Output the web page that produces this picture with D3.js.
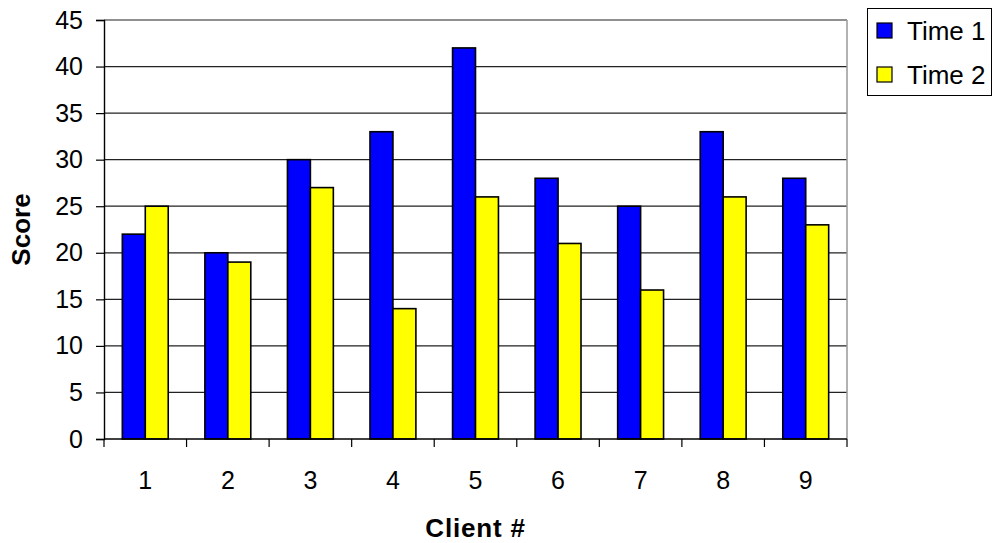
<!DOCTYPE html>
<html>
<head>
<meta charset="utf-8">
<script src="https://cdn.jsdelivr.net/npm/d3@7"></script>
<style>
  html, body { margin: 0; padding: 0; background: #fff; }
  svg { display: block; font-family: "Liberation Sans", Arial, sans-serif; }
</style>
</head>
<body>
<svg id="chart" width="993" height="543"></svg>
<script>
// Scores per client at two time points
const clients = ["1", "2", "3", "4", "5", "6", "7", "8", "9"];
const seriesNames = ["Time 1", "Time 2"];
const time1 = [22, 20, 30, 33, 42, 28, 25, 33, 28];
const time2 = [25, 19, 27, 14, 26, 21, 16, 26, 23];
const yTicks = [0, 5, 10, 15, 20, 25, 30, 35, 40, 45];
const colors = ["#0000FF", "#FFFF00"];

const svg = d3.select("#chart");
const plot = { left: 104, right: 847, top: 20, bottom: 439 };
const tickFont = 25;

const x0 = d3.scaleBand().domain(clients).range([plot.left, plot.right]).padding(0);
const bw = x0.bandwidth();
const groupPad = bw * 0.222;
const x1 = d3.scaleBand().domain(seriesNames).range([groupPad, bw - groupPad]).padding(0);
const y = d3.scaleLinear().domain([0, 45]).range([plot.bottom, plot.top]);

// Horizontal gridlines
svg.append("g")
  .selectAll("line")
  .data(yTicks.filter(d => d > 0))
  .join("line")
  .attr("x1", plot.left).attr("x2", plot.right)
  .attr("y1", d => y(d)).attr("y2", d => y(d))
  .attr("stroke", "#222").attr("stroke-width", 1.2);

// Right border of the plot area
svg.append("line")
  .attr("x1", plot.right).attr("x2", plot.right)
  .attr("y1", plot.top).attr("y2", plot.bottom)
  .attr("stroke", "#999").attr("stroke-width", 1.5);

// Bars
const data = clients.map((c, i) => ({ client: c, values: [time1[i], time2[i]] }));
svg.append("g")
  .selectAll("g")
  .data(data)
  .join("g")
  .attr("transform", d => `translate(${x0(d.client)},0)`)
  .selectAll("rect")
  .data(d => d.values.map((v, j) => ({ series: seriesNames[j], value: v, color: colors[j] })))
  .join("rect")
  .attr("x", d => x1(d.series))
  .attr("width", x1.bandwidth())
  .attr("y", d => y(d.value))
  .attr("height", d => y(0) - y(d.value))
  .attr("fill", d => d.color)
  .attr("stroke", "#000")
  .attr("stroke-width", 1.6);

// Y axis
const yAxis = svg.append("g")
  .attr("transform", `translate(${plot.left},0)`)
  .call(d3.axisLeft(y).tickValues(yTicks).tickSize(8).tickPadding(13).tickFormat(d3.format("d")));
yAxis.select(".domain").attr("stroke", "#000").attr("stroke-width", 1.4);
yAxis.selectAll(".tick line").attr("stroke", "#000").attr("stroke-width", 1.2);
yAxis.selectAll("text").attr("font-size", tickFont).attr("fill", "#000")
  .attr("font-family", "Liberation Sans, Arial, sans-serif");

// X axis: ticks at the category boundaries
const boundaries = clients.map(c => x0(c)).concat([plot.right]);
const xAxis = svg.append("g").attr("transform", `translate(0,${plot.bottom})`);
xAxis.append("line")
  .attr("x1", plot.left).attr("x2", plot.right)
  .attr("stroke", "#000").attr("stroke-width", 1.4);
xAxis.selectAll("line.tk")
  .data(boundaries)
  .join("line")
  .attr("class", "tk")
  .attr("x1", d => d).attr("x2", d => d)
  .attr("y1", 0).attr("y2", 8)
  .attr("stroke", "#000").attr("stroke-width", 1.2);
xAxis.selectAll("text")
  .data(clients)
  .join("text")
  .attr("x", d => x0(d) + bw / 2)
  .attr("y", 50)
  .attr("text-anchor", "middle")
  .attr("font-size", tickFont)
  .attr("fill", "#000")
  .text(d => d);

// Axis titles
svg.append("text")
  .attr("x", (plot.left + plot.right) / 2)
  .attr("y", 537)
  .attr("text-anchor", "middle")
  .attr("font-size", 26)
  .attr("font-weight", "bold")
  .attr("letter-spacing", 0.8)
  .text("Client #");

svg.append("text")
  .attr("transform", `translate(30,${(plot.top + plot.bottom) / 2}) rotate(-90)`)
  .attr("text-anchor", "middle")
  .attr("font-size", 26)
  .attr("font-weight", "bold")
  .text("Score");

// Legend
const legend = svg.append("g");
legend.append("rect")
  .attr("x", 867.5).attr("y", 8.5).attr("width", 124).attr("height", 87)
  .attr("fill", "#fff").attr("stroke", "#000").attr("stroke-width", 1);
seriesNames.forEach((name, i) => {
  const ly = 23 + i * 44;
  legend.append("rect")
    .attr("x", 877).attr("y", ly).attr("width", 15).attr("height", 15)
    .attr("fill", colors[i]).attr("stroke", "#000").attr("stroke-width", 1.2);
  legend.append("text")
    .attr("x", 907).attr("y", ly + 17)
    .attr("font-size", 26)
    .attr("fill", "#000")
    .text(name);
});
</script>
</body>
</html>
